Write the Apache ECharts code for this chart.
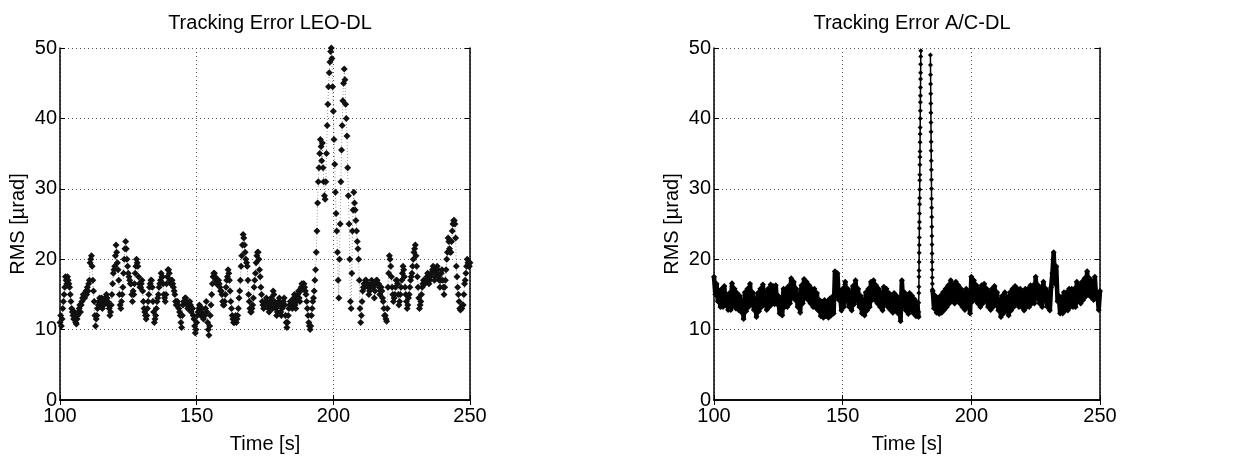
<!DOCTYPE html>
<html>
<head>
<meta charset="utf-8">
<script src="https://cdn.jsdelivr.net/npm/echarts@6/dist/echarts.min.js"></script>
<style>html,body{margin:0;padding:0;background:#fff}#c{width:1236px;height:459px}</style>
</head>
<body>
<div id="c"></div>
<script>
// ---------- DATA ----------
const titles = ['Tracking Error LEO-DL', 'Tracking Error A/C-DL'];
const xName = 'Time [s]';
const yName = 'RMS [µrad]';
const xTicks = [100, 150, 200, 250];
const yTicks = [0, 10, 20, 30, 40, 50];

// LEO-DL: 100 .. 192.75 s, every 0.25 s
const leoA = [
11,12,10.5,11.5, 13,14,15,16, 17.5,17,16.5,17.5, 17,16.5,16,15, 14,13,12.5,12,
11.5,12.5,12,11, 10.8,11.5,12,12.5, 13,13.5,12.5,13.5, 14,14.5,15,14.5, 14.5,15,15.5,15,
16,15.5,16.5,17, 19.5,20,20.5,19, 17,15.5,14,12, 10.5,11.5,12,13, 13.5,14,14.5,13.5,
14,14.5,13,13.5, 13.5,14,14.5,14, 15,14.5,14,13.5, 13,12,12.5,13.5, 15,16.5,18,18.5,
19,20.5,22,21, 19.5,18.5,17,15, 13.5,13,14,15, 16,18,20,21.5, 22.5,21.5,20,19,
18,17.5,17,16.5, 16.5,15,14,15.5, 15,16.5,18,19, 20,19.5,19,17.5, 16.5,16,16,16.5,
17,15.5,14,13, 12.5,12,11.5,12, 13,14,15,16, 16.5,17,17,16, 14,12.5,11,11.5,
12,13,14,14.5, 15,16,16.5,17, 18,17.5,17.5,16.5, 15,14.5,14,15, 16.5,17.5,18.5,18.5,
18,17,16.5,17, 17,16.5,16,15.5, 15,14,13.5,14, 14,13.5,13,12.5, 12,11,10.3,12,
13.5,14,14,14.5, 14.5,14,13.5,13, 13,13.5,14,13.5, 12.5,13,13,12, 11.5,10.5,9.5,10,
11,12,12.5,13, 13.5,12.5,12,12.5, 13,12,11.5,12, 12,13,14,12.5, 11,10,9.2,10.5,
12,13.5,15,16.5, 17.5,18,18,17.5, 17,16.5,16.5,17, 17,16.5,16,15.5, 15.5,15,14,13.5,
13.5,14,15,16, 17,17.5,18.5,18, 17,15.5,14,13, 12,11.5,11,11, 11.5,12,11,11.5,
12,13,14.5,15.5, 17,19,20.5,22, 23.5,23,22,21, 20,19.5,19,17, 15,14,13,12.5,
12.5,13,13.5,14.5, 16,17,18,19.5, 20.5,21,21,20, 18.5,17.5,16,15, 14,13.5,13,13.5,
13.5,14,14.5,14, 13.5,13,12.5,13, 14,14.5,13.5,13, 15.5,15,14,13.5, 13,12,12.5,13.5,
14,14.5,13.5,12.5, 12,13,13.5,14, 14.5,13.5,12,11, 10.3,11,12,13, 13.5,14,14,13.5,
13,13.5,14.5,15, 13.5,13,14,14.5, 15,15.5,14.5,14, 15.5,16,16.5,16, 16.5,16.5,16,15.5,
15,14,13,12, 11,10.5,10,10.5, 12,13,14,14.5
];
// LEO-DL: 193 .. 211 s, every 0.25 s (fast excursion)
const leoSpike = [
15.5,17,18.5,21, 24,28,31,33, 35,37,36,34, 36.5,33,31,29, 28.5,31,35,39, 42,44.5,46.5,48,
49.5,50,48.5,44.5, 41,37,33.5,29.5, 26.5,24,21,17, 14.5,20,25,31, 35.5,39,42.5,45,
47,45.5,42,40, 37.5,33,29,25, 20,14,13,18, 24,27,29.5,28, 27,25.5,24,22.5,
21.5,20,17,13, 11,12,14,15.5, 16
];
// LEO-DL: 211.25 .. 250 s, every 0.25 s
const leoB = [
16.5,16,17,
17,16.5,16.5,16, 15,15.5,16,16.5, 17,16.5,16,16.5, 14.5,15.5,16.5,17, 17,16.5,16.5,16,
15,15.5,16,15.5, 14.5,14,13,12, 12,11.5,11.2,13, 16,18,20.5,20, 19,17.5,16,15,
14,14.5,15,16, 17,17,16.5,15, 13.5,14,15,16, 17,18,19,18.5, 17.5,16,15,14,
13,13.5,14.5,15, 16,17,17.5,18, 19,20,21,21.5, 22,20.5,19,17.5, 16,14.5,13,13.5,
14,15,16,16.5, 17,16.5,16.5,17, 17,17.5,18,17.5, 16.5,17,17.5,18, 18,18.5,19,18.5,
17,17.5,18.5,18, 19,18.5,17.5,17, 16,17,18,18.5, 17,16,15,16, 17,18.5,20,21,
23,22.5,21.5,21, 21,22.5,24,25, 25.5,25.5,25,23, 19,17.5,16,15, 14,13,12.8,13,
13,13.5,13.5,15, 16.5,17,18,19, 20,19.5,19,19, 19.5
];

// A/C-DL: 100 .. 179.5 s, every 0.5 s
const acA = [
17.5,15, 16.5,14, 15.5,13.2, 15.8,13.2, 16.2,13.5, 15,12.8, 15.2,12.8, 16.6,13.5, 15.8,13, 15.2,12.8,
14.8,12.5, 14,11.5, 15.3,12.6, 15.8,13.2, 16.5,13.6, 15.3,12.8, 14,11.8, 15.2,12.6, 15.8,13.2, 16.4,13.6,
15.3,12.8, 15.8,13.2, 16.4,13.6, 16.2,13.6, 16.3,13.6, 14.8,12.3, 14.2,12, 15.8,13.2, 15.8,13.2, 16.2,13.7,
17.3,14.6, 16.8,14.2, 15.8,13.2, 14.6,12.4, 16.3,13.7, 17.2,14.6, 16.8,14.2, 16.3,13.7, 15.8,13.2, 15.8,13.1,
15.2,12.7, 14.2,11.9, 14,11.7, 14.2,11.9, 14,11.7, 14.4,12, 14.7,12.3, 18.3,14.8, 18,14.2, 15.3,12.7,
15.8,13.2, 16.8,14.2, 15.8,13.2, 15.3,12.7, 16.2,13.6, 17,14.2, 15.8,13.2, 14.8,12.3, 14.2,12, 15.3,12.7,
15.8,13.2, 16.8,14.2, 17,14.2, 16.3,13.7, 15.8,13.2, 15.2,12.7, 16.1,13.8, 15.8,13.2, 15.2,12.8, 14.8,12.4,
15.2,12.8, 14.8,12.3, 13.8,11.2, 17,13.8, 15.3,12.7, 14.8,12.2, 15.2,12.8, 14.8,12.3, 14.3,11.9, 13.8,11.8
];
// A/C-DL: rising edge from 179.55 s, every 0.025 s
const acRise = [
12.5,13.8,15.2,16.1,17.5,18.4,19.6,20.9,22,23.1,24.4,25.3,26.5,27.8,28.7,29.9,31.2,
32,33.4,34.5,35.3,36.6,37.8,38.7,40,41.1,42.3,43.2,44.4,45.6,46.5,47.7,48.8,49.6
];
// A/C-DL: falling edge from 184.1 s, every 0.03 s
const acFall = [
49,47.6,46.2,44.9,43.5,42.1,40.8,39.4,38.1,36.7,35.4,34,32.7,31.3,30,28.6,27.3,26,
24.6,23.3,22.1,20.8,19.6,18.5,17.4,16.5,15.7
];
// A/C-DL: 185 .. 250 s, every 0.5 s
const acB = [
15.5,13, 14.8,12.4, 14.5,12.2, 14.8,12.4, 15.3,12.8, 15.8,13.2, 16.3,13.7, 17,14.2, 16.3,13.7, 16.8,14.2,
16.3,13.7, 15.8,13.2, 15.3,12.8, 15.8,13.2, 14.8,12.3, 17.5,14, 17,14.2, 16.3,13.7, 15.8,13.2, 16.3,13.7,
16.5,14.2, 15.8,13.2, 15.3,12.8, 15.8,13.2, 16.2,13.6, 15.3,12.7, 14.2,11.8, 14.8,12.3, 15.3,12.7, 14.6,12,
15.3,12.7, 15.8,13.2, 16.2,13.7, 15.8,13.2, 15.8,13.2, 15.3,12.7, 15.8,13.2, 15.8,13.2, 16.3,13.7, 16.3,13.7,
17.5,14.5, 16.3,13.7, 15.8,13.2, 16.8,14.2, 15.8,13.2, 15.3,12.7, 16,18, 21,16.5, 19,14, 14.8,12.3,
14.6,12.3, 15.3,12.7, 15.3,12.7, 15.8,13.2, 15.8,13.2, 15.8,13.2, 16.8,14.2, 16.3,13.7, 16.8,14.2, 17.3,14.7,
18.3,15, 17.3,14.6, 16.8,14.2, 17.5,14.5, 15,12.8, 15.5
];

// ---------- BUILD ----------
function seg(vals, t0, dt) { return vals.map((v, i) => [+(t0 + i * dt).toFixed(3), v]); }
const leoData = [].concat(seg(leoA, 100, 0.25), seg(leoSpike, 193, 0.25), seg(leoB, 211.25, 0.25));
const acBand = [].concat(seg(acA, 100, 0.5), [[182, null]], seg(acB, 185, 0.5));
const acEdges = [].concat(seg(acRise, 179.55, 0.025), [[182, null]], seg(acFall, 184.1, 0.03));

const FONT = 'Liberation Sans, Arial, Helvetica, sans-serif';
const FS = 20;
const grids = [
  { left: 60, top: 48, width: 410, height: 355 },
  { left: 714, top: 48, width: 386, height: 355 }
];
const xMin = xTicks[0], xMax = xTicks[xTicks.length - 1], xInt = xTicks[1] - xTicks[0];
const yMin = yTicks[0], yMax = yTicks[yTicks.length - 1], yInt = yTicks[1] - yTicks[0];
const grid = { color: '#555', type: [1, 3], width: 1 };
const line = { show: true, lineStyle: { color: '#000', width: 1.5 } };

const xAxis = [], yAxis = [];
grids.forEach((g, i) => {
  xAxis.push({
    type: 'value', gridIndex: i, min: xMin, max: xMax, interval: xInt, position: 'bottom',
    name: xName, nameLocation: 'middle', nameGap: 34,
    nameTextStyle: { fontFamily: FONT, fontSize: FS, color: '#000' },
    axisLine: line, axisTick: { inside: true, length: 5, lineStyle: { color: '#000' } },
    axisLabel: { fontFamily: FONT, fontSize: FS, color: '#000', margin: 6 },
    splitLine: { show: true, lineStyle: grid }
  });
  xAxis.push({
    type: 'value', gridIndex: i, min: xMin, max: xMax, interval: xInt, position: 'top',
    axisLine: line, axisTick: { inside: true, length: 5, lineStyle: { color: '#000' } },
    axisLabel: { show: false }, splitLine: { show: false }
  });
  yAxis.push({
    type: 'value', gridIndex: i, min: yMin, max: yMax, interval: yInt, position: 'left',
    name: yName, nameLocation: 'middle', nameGap: 32, nameRotate: 90,
    nameTextStyle: { fontFamily: FONT, fontSize: FS, color: '#000' },
    axisLine: line, axisTick: { inside: true, length: 5, lineStyle: { color: '#000' } },
    axisLabel: { fontFamily: FONT, fontSize: FS, color: '#000', margin: 3 },
    splitLine: { show: true, lineStyle: grid }
  });
  yAxis.push({
    type: 'value', gridIndex: i, min: yMin, max: yMax, interval: yInt, position: 'right',
    axisLine: line, axisTick: { inside: true, length: 5, lineStyle: { color: '#000' } },
    axisLabel: { show: false }, splitLine: { show: false }
  });
});

const chart = echarts.init(document.getElementById('c'), null, { renderer: 'canvas' });
chart.setOption({
  animation: false,
  backgroundColor: '#fff',
  title: [
    { text: titles[0], left: 265, top: 8, textAlign: 'center',
      textStyle: { fontFamily: FONT, fontSize: FS, fontWeight: 'normal', color: '#000' } },
    { text: titles[1], left: 907, top: 8, textAlign: 'center',
      textStyle: { fontFamily: FONT, fontSize: FS, fontWeight: 'normal', color: '#000' } }
  ],
  grid: grids,
  xAxis: xAxis,
  yAxis: yAxis,
  series: [
    { type: 'line', xAxisIndex: 0, yAxisIndex: 0, data: leoData, clip: true,
      symbol: 'diamond', symbolSize: 7, showSymbol: true, showAllSymbol: true,
      itemStyle: { color: '#111' },
      lineStyle: { color: '#000', width: 0.8, type: [1, 2], opacity: 0.5 } },
    { type: 'line', xAxisIndex: 2, yAxisIndex: 2, data: acBand, clip: true, connectNulls: false,
      symbol: 'diamond', symbolSize: 6, showSymbol: true, showAllSymbol: true,
      itemStyle: { color: '#000' },
      lineStyle: { color: '#000', width: 4.5 } },
    { type: 'line', xAxisIndex: 2, yAxisIndex: 2, data: acEdges, clip: true, connectNulls: false,
      symbol: 'diamond', symbolSize: 5, showSymbol: true, showAllSymbol: true,
      itemStyle: { color: '#000' },
      lineStyle: { color: '#000', width: 1.5 } }
  ]
});
</script>
</body>
</html>
